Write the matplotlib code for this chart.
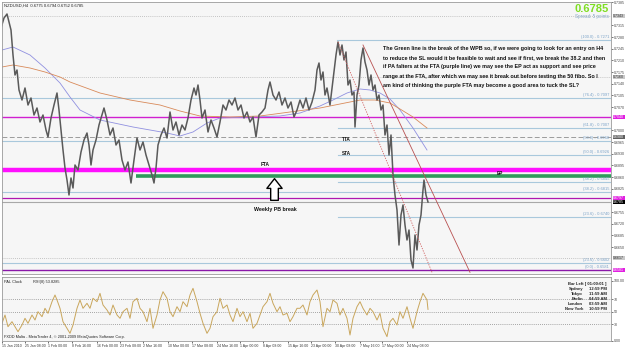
import matplotlib
matplotlib.use('Agg')
import matplotlib.pyplot as plt
import matplotlib.transforms as mtransforms

plt.rcParams['font.family'] = ['Liberation Sans', 'DejaVu Sans']

# ---------------- data ----------------
bar_x = [1, 4, 7, 9, 11, 13, 15, 17, 19, 22, 25, 28, 31, 34, 37, 40, 43, 46, 48, 51,
         54, 57, 59, 61, 63, 65, 67, 69, 71, 73, 75, 78, 81, 84, 87, 89, 91, 93, 96, 99,
         102, 104, 107, 110, 113, 116, 119, 122, 125, 128, 131, 134, 137, 140, 143, 146, 149, 152, 154, 156,
         158, 161, 164, 167, 170, 173, 176, 179, 182, 185, 188, 191, 194, 196, 198, 200, 202, 205, 208, 211,
         214, 217, 220, 223, 226, 229, 232, 235, 238, 241, 244, 247, 250, 253, 256, 259, 262, 265, 268, 270,
         273, 276, 279, 282, 285, 288, 291, 294, 297, 300, 303, 306, 309, 312, 315, 317, 319, 321, 323, 325,
         327, 330, 333, 336, 338, 340, 342, 344, 346, 348, 350, 352, 354, 355, 357, 359, 361, 363, 365, 367,
         369, 371, 373, 375, 377, 379, 381, 383, 385, 387, 389, 391, 393, 395, 397, 399, 401, 403, 405, 407,
         409, 411, 413, 415, 417, 419, 421, 423, 424, 426, 428]
close = [0.7307, 0.7337, 0.7349, 0.7325, 0.7301, 0.7226, 0.7166, 0.7181, 0.7121, 0.7091,
         0.7127, 0.7076, 0.7097, 0.7046, 0.7067, 0.7025, 0.7046, 0.7001, 0.6980, 0.7037,
         0.7076, 0.7112, 0.7061, 0.7001, 0.6941, 0.6887, 0.6851, 0.6806, 0.6857, 0.6827,
         0.6896, 0.6881, 0.6935, 0.6971, 0.6992, 0.6956, 0.6896, 0.6941, 0.6971, 0.7016,
         0.7046, 0.7067, 0.7031, 0.6986, 0.7007, 0.6956, 0.6971, 0.6911, 0.6881, 0.6905,
         0.6842, 0.6911, 0.6977, 0.6941, 0.6965, 0.6926, 0.6896, 0.6866, 0.6842, 0.6887,
         0.6956, 0.6986, 0.7007, 0.6977, 0.7055, 0.7001, 0.7025, 0.6986, 0.7016, 0.7001,
         0.7037, 0.7091, 0.7127, 0.7106, 0.7136, 0.7091, 0.7037, 0.7061, 0.6995, 0.7031,
         0.7007, 0.6980, 0.7025, 0.7076, 0.7061, 0.7091, 0.7076, 0.7097, 0.7061, 0.7076,
         0.7037, 0.7055, 0.7025, 0.7040, 0.6980, 0.7046, 0.7055, 0.7067, 0.7121, 0.7145,
         0.7106, 0.7091, 0.7115, 0.7076, 0.7097, 0.7067, 0.7085, 0.7040, 0.7061, 0.7091,
         0.7067, 0.7097, 0.7061, 0.7085, 0.7121, 0.7181, 0.7202, 0.7151, 0.7175, 0.7106,
         0.7127, 0.7076, 0.7151, 0.7226, 0.7265, 0.7226, 0.7256, 0.7211, 0.7235, 0.7136,
         0.7151, 0.7106, 0.7115, 0.7010, 0.7106, 0.7136, 0.7211, 0.7247, 0.7205, 0.7181,
         0.7136, 0.7166, 0.7121, 0.7136, 0.7091, 0.7106, 0.7061, 0.7076, 0.6986, 0.7016,
         0.6926, 0.6986, 0.6866, 0.6806, 0.6761, 0.6656, 0.6746, 0.6776, 0.6716, 0.6671,
         0.6701, 0.6611, 0.6587, 0.6686, 0.6641, 0.6716, 0.6746, 0.6821, 0.6851, 0.6806, 0.6785]

ma_fast_x = [2, 13, 30, 45, 60, 70, 80, 100, 133, 150, 167, 180, 193, 207, 220, 250, 280, 300,
             320, 333, 347, 360, 370, 380, 390, 400, 413, 427]
ma_fast = [0.7241, 0.7250, 0.7226, 0.7187, 0.7142, 0.7100, 0.7061, 0.7031, 0.7010, 0.7001,
           0.6992, 0.6983, 0.6995, 0.7022, 0.7037, 0.7040, 0.7043, 0.7052, 0.7073, 0.7091,
           0.7112, 0.7124, 0.7121, 0.7112, 0.7094, 0.7061, 0.7007, 0.6941]
ma_slow_x = [2, 13, 30, 45, 60, 70, 100, 130, 160, 180, 200, 230, 260, 290, 320, 340, 360, 375,
             390, 400, 413, 427]
ma_slow = [0.7190, 0.7196, 0.7187, 0.7175, 0.7160, 0.7145, 0.7112, 0.7091, 0.7076, 0.7058,
           0.7043, 0.7040, 0.7043, 0.7055, 0.7067, 0.7079, 0.7091, 0.7091, 0.7082, 0.7064,
           0.7040, 0.7007]

rsi_x = [2, 5, 8, 12, 15, 18, 22, 25, 28, 32, 35, 38, 42, 45, 48, 52, 55, 57, 60, 63,
         67, 70, 73, 77, 80, 83, 87, 90, 93, 97, 100, 103, 107, 110, 113, 117, 120, 123, 127, 130,
         133, 137, 140, 143, 147, 150, 153, 157, 160, 163, 167, 170, 173, 177, 180, 183, 187, 190, 193, 197,
         200, 203, 207, 210, 213, 217, 220, 223, 227, 230, 233, 237, 240, 243, 247, 250, 253, 257, 260, 263,
         267, 270, 273, 277, 280, 283, 287, 290, 293, 297, 300, 303, 307, 310, 313, 317, 320, 323, 327, 330,
         333, 337, 340, 343, 347, 350, 353, 357, 360, 363, 367, 370, 373, 377, 380, 383, 387, 390, 393, 397,
         400, 403, 407, 410, 413, 417, 420, 423, 427, 428]
rsi = [31.5, 44.8, 26.1, 34.1, 26.1, 18.1, 28.8, 39.5, 31.5, 44.8, 36.8, 50.1, 42.1, 55.5, 47.5,
       66.1, 76.8, 68.8, 55.5, 34.1, 23.5, 15.5, 28.8, 55.5, 68.8, 55.5, 63.5, 55.5, 71.5, 66.1,
       79.5, 60.8, 52.8, 44.8, 60.8, 44.8, 39.5, 50.1, 55.5, 39.5, 66.1, 71.5, 55.5, 50.1, 34.1,
       55.5, 23.5, 44.8, 68.8, 82.1, 71.5, 50.1, 42.1, 58.1, 50.1, 66.1, 58.1, 76.8, 87.5, 66.1,
       47.5, 31.5, 15.5, 23.5, 42.1, 50.1, 71.5, 55.5, 60.8, 44.8, 34.1, 55.5, 42.1, 50.1, 34.1,
       47.5, 23.5, 31.5, 44.8, 58.1, 66.1, 79.5, 63.5, 50.1, 58.1, 44.8, 47.5, 34.1, 42.1, 55.5,
       55.5, 60.8, 44.8, 66.1, 76.8, 84.8, 66.1, 26.1, 55.5, 50.1, 68.8, 63.5, 44.8, 55.5, 39.5,
       12.8, 39.5, 58.1, 66.1, 55.5, 44.8, 55.5, 50.1, 36.8, 47.5, 23.5, 10.1, 34.1, 39.5, 28.8,
       50.1, 39.5, 58.1, 39.5, 23.5, 50.1, 66.1, 79.5, 68.8, 53.8]
rsi_levels = [30, 50, 70]

time_tick_x = [2, 25, 48, 72, 97, 120, 143, 168, 192, 217, 240, 263, 288, 311, 335, 360, 382, 407]
time_labels = ['15 Jan 2010', '25 Jan 08:00', '1 Feb 00:00', '8 Feb 16:00', '16 Feb 00:00',
               '23 Feb 08:00', '2 Mar 16:00', '10 Mar 00:00', '17 Mar 08:00', '24 Mar 16:00',
               '1 Apr 00:00', '8 Apr 08:00', '15 Apr 16:00', '23 Apr 00:00', '30 Apr 08:00',
               '7 May 16:00', '17 May 00:00', '24 May 08:00']

# fib lines: (price, start column, label)
fib_prices = [0.7271, 0.7097, 0.7007, 0.6968, 0.6926, 0.6845, 0.6815, 0.6740, 0.6602]
fib_start = [337, 2, 338, 2, 338, 338, 2, 338, 2]
fib_labels = ['(100.0) - 0.7271', '(76.4) - 0.7097', '(61.8) - 0.7007', '(50.0) - 0.6968',
              '(50.0) - 0.6926', '(38.2) - 0.6845', '(38.2) - 0.6815', '(23.6) - 0.6740',
              '(23.6) - 0.6602']
fib_low = 0.6581

grid_prices = [0.7343, 0.7160, 0.6617]
dash_price = 0.6980
magenta_thin = 0.7040
fta_price = 0.6881
ep_price = 0.6863
purple_mid = 0.6797
bid = 0.6785

# trend lines (column, price) pairs
trend_solid = ([363, 470], [0.7256, 0.6574])
trend_dotted = ([338, 432], [0.7265, 0.6574])

price_ticks = [0.6580 + 0.0035 * i for i in range(24)]

# ---------------- figure ----------------
W, H = 625, 349
fig = plt.figure(figsize=(W / 100, H / 100), dpi=100, facecolor='#ffffff')


def rect(x0, y0, x1, y1):
    return [x0 / W, 1 - y1 / H, (x1 - x0) / W, (y1 - y0) / H]


ax = fig.add_axes(rect(2, 2, 611, 274))
axr = fig.add_axes(rect(2, 277, 611, 341))
for a in (ax, axr):
    a.set_facecolor('#f6f6f6')
    for s in a.spines.values():
        s.set_color('#9a9a9a')
        s.set_linewidth(0.6)

ax.set_xlim(2, 611)
ax.set_ylim(0.6569, 0.7385)
fs = 2.9

# horizontal objects
for p in grid_prices:
    ax.axhline(p, color='#b4b4b4', lw=0.6, ls=(0, (1, 1.5)))
ax.axhline(dash_price, color='#9c9c9c', lw=0.7, ls=(0, (5, 2.5)))
for p, x0 in zip(fib_prices, fib_start):
    ax.plot([x0, 611], [p, p], color='#a9c8dc', lw=0.8)
ax.axhline(magenta_thin, color='#d020d0', lw=1.0)
ax.axhline(fta_price, color='#ff10ff', lw=3.2)
ax.plot([136, 611], [ep_price, ep_price], color='#2f9a5c', lw=2.6, solid_capstyle='butt')
ax.axhline(purple_mid, color='#b018b0', lw=0.9)
ax.axhline(bid, color='#a8a8a8', lw=0.8)
ax.axhline(fib_low, color='#8a18a8', lw=1.0)

# moving averages
ax.plot(ma_fast_x, ma_fast, color='#9090e0', lw=0.6)
ax.plot(ma_slow_x, ma_slow, color='#d88a5a', lw=0.6)

# price
ax.plot(bar_x, close, color='#5a5a5a', lw=1.1)

# trend lines
ax.plot(*trend_solid, color='#b85050', lw=0.6)
ax.plot(*trend_dotted, color='#d06060', lw=0.6, ls=(0, (1.5, 1.5)))

# fib labels
for p, t in zip(fib_prices, fib_labels):
    ax.text(609, p + 0.0003, t, fontsize=fs, color='#7aa2c8', ha='right', va='bottom')
ax.text(609, fib_low + 0.0003, '(0.0) - 0.6581', fontsize=fs, color='#7aa2c8', ha='right', va='bottom')

# right axis
boxed = [(grid_prices[0], '#c8c8c8', '#333333'), (grid_prices[1], '#c8c8c8', '#333333'),
         (magenta_thin, '#e020e0', 'white'), (dash_price, '#606060', 'white'),
         (purple_mid, '#e020e0', 'white'), (bid, '#000000', 'white'),
         (grid_prices[2], '#c8c8c8', '#333333'), (fib_low, '#e020e0', 'white')]
shown_ticks = [t for t in price_ticks if all(abs(t - b[0]) > 0.0014 for b in boxed)]
ax.yaxis.tick_right()
ax.set_yticks(shown_ticks)
ax.set_yticklabels([f'{v:.4f}' for v in shown_ticks])
ax.tick_params(axis='y', labelsize=2.6, length=1.5, width=0.5, pad=0.5, colors='#444444')
ax.set_xticks([])

trans = mtransforms.blended_transform_factory(ax.transAxes, ax.transData)
for p, fc, tc in boxed:
    ax.text(1.0035, p, f'{p:.4f}', transform=trans, fontsize=2.6, color=tc, va='center', ha='left',
            bbox=dict(boxstyle='square,pad=0.12', fc=fc, ec='none'), clip_on=False)

# annotations
ax.text(4, 0.7374, 'NZDUSD,H4  0.6775 0.6794 0.6752 0.6785', fontsize=3.0, color='#222222', va='center')
ax.text(609, 0.7364, '0.6785', fontsize=8, color='#7ede22', fontweight='bold', ha='right', va='center')
ax.text(609, 0.7342, 'Spread: 5 points', fontsize=3.3, color='#88a8c8', ha='right', va='center')

note = ("The Green line is the break of the WPB so, if we were going to look for an entry on H4\n"
        "to reduce the SL would it be feasible to wait and see if first, we break the 38.2 and then\n"
        "if PA falters at the FTA (purple line) we may see the EP act as support and see price\n"
        "range at the FTA, after which we may see it break out before testing the 50 fibo. So I\n"
        "am kind of thinking the purple FTA may become a good area to tuck the SL?")
ax.text(383, 0.7254, note, fontsize=3.9, fontweight='bold', color='#111111', va='top', ha='left',
        linespacing=2.1)

ax.text(342, 0.6974, 'TTA', fontsize=3.4, fontweight='bold', color='#111111', va='center')
ax.text(342, 0.6932, 'STA', fontsize=3.4, fontweight='bold', color='#111111', va='center')
ax.text(265, 0.6898, 'FTA', fontsize=3.4, fontweight='bold', color='#111111', va='center', ha='center')
ax.text(500, 0.6871, 'EP', fontsize=3.4, fontweight='bold', color='#111111', va='center', ha='center')
ax.text(275, 0.6764, 'Weekly PB break', fontsize=3.8, fontweight='bold', color='#111111',
        va='center', ha='center')
ax.annotate('', xy=(274.5, 0.6855), xytext=(274.5, 0.6790),
            arrowprops=dict(arrowstyle='simple,head_length=0.7,head_width=1.1,tail_width=0.55',
                            fc='white', ec='black', lw=1.0, mutation_scale=10, shrinkA=0, shrinkB=0))

# ---------------- indicator ----------------
axr.set_xlim(2, 611)
axr.set_ylim(3.2, 105.6)
for lv in rsi_levels:
    axr.axhline(lv, color='#8a8a8a', lw=0.6, ls=(0, (1, 1.5)))
axr.plot(rsi_x, rsi, color='#c9a65c', lw=0.7)
axr.yaxis.tick_right()
axr.set_yticks([100, 70, 50, 30, 4])
axr.set_yticklabels(['100.00', '70', '50', '30', '0.00'])
axr.tick_params(axis='y', labelsize=2.6, length=1.5, width=0.5, pad=0.5, colors='#444444')
axr.set_xticks(time_tick_x)
axr.set_xticklabels(time_labels, ha='left')
axr.tick_params(axis='x', labelsize=2.5, length=1.5, width=0.5, pad=0.8, colors='#333333')

axr.text(4, 97, 'PAL Clock', fontsize=2.8, color='#222222', va='center')
axr.text(33, 97, 'RSI(8) 53.8285', fontsize=2.8, color='#222222', va='center')
axr.text(4, 9, 'FXDD Malta - MetaTrader 4, \u00a9 2001-2009 MetaQuotes Software Corp.', fontsize=2.8,
         color='#222222', va='center')

axr.text(607, 95, 'Bar Left [ 01:00:01 ]', fontsize=3.0, fontweight='bold', color='#222222',
         ha='right', va='center')
cities = ['Sydney', 'Tokyo', 'Berlin', 'London', 'New York']
times = ['12:59 PM', '11:59 AM', '04:59 AM', '03:59 AM', '10:59 PM']
for i, (c, t) in enumerate(zip(cities, times)):
    yy = 87 - i * 8
    axr.text(583, yy, c, fontsize=3.0, fontweight='bold', color='#222222', ha='right', va='center')
    axr.text(607, yy, t, fontsize=3.0, fontweight='bold', color='#222222', ha='right', va='center')

fig.savefig('out.png', dpi=100, facecolor=fig.get_facecolor())
